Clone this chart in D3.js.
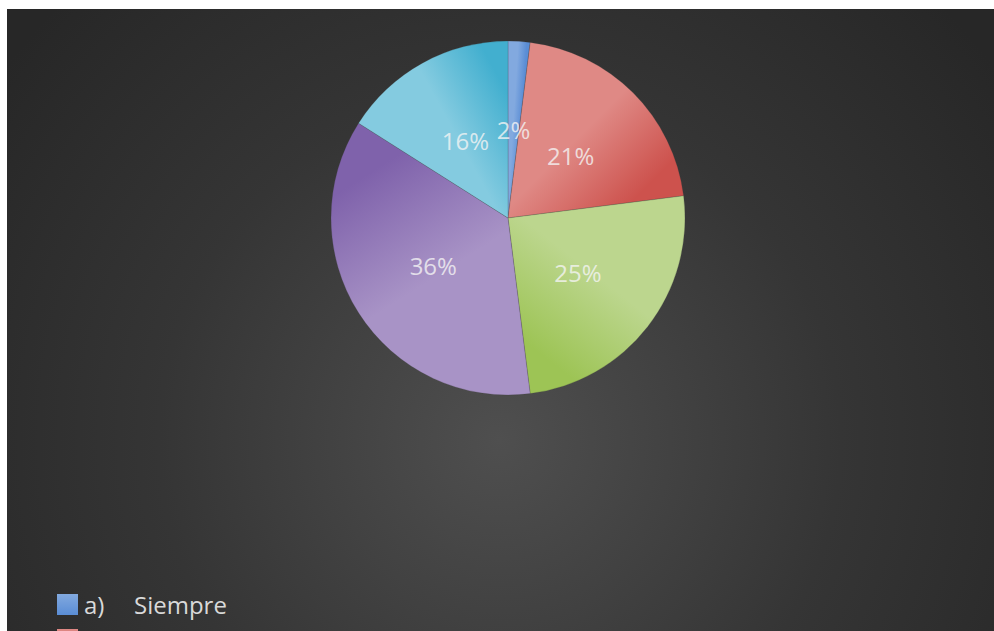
<!DOCTYPE html>
<html>
<head>
<meta charset="utf-8">
<script src="https://cdn.jsdelivr.net/npm/d3@7"></script>
<style>
  html, body { margin: 0; padding: 0; background: #ffffff; }
  svg { display: block; }
</style>
</head>
<body>
<svg id="chart" width="994" height="631"></svg>
<script>
// Survey answers and their shares (percent)
const prefixes = ["a)", "b)", "c)", "d)", "e)"];
const categories = ["Siempre", "Casi siempre", "A veces", "Casi nunca", "Nunca"];
const shares = [2, 21, 25, 36, 16];

// Slice shading: light tone at the leading edge, deeper tone at the trailing edge
const lightTones = ["#82a9df", "#df8985", "#bcd68e", "#a893c6", "#84cbe0"];
const darkTones  = ["#5a8dd5", "#cd524d", "#9dc455", "#7f62ab", "#42afcf"];

const W = 994, H = 631;
const svg = d3.select("#chart");
const defs = svg.append("defs");

// Chart area with a soft radial glow
const bg = defs.append("radialGradient")
  .attr("id", "bgGlow")
  .attr("gradientUnits", "userSpaceOnUse")
  .attr("cx", 500).attr("cy", 440).attr("r", 620);
bg.append("stop").attr("offset", 0).attr("stop-color", "#4f4f4f");
bg.append("stop").attr("offset", 0.55).attr("stop-color", "#353535");
bg.append("stop").attr("offset", 1).attr("stop-color", "#272727");

svg.append("rect")
  .attr("x", 7).attr("y", 9)
  .attr("width", W - 7).attr("height", H - 9)
  .attr("fill", "url(#bgGlow)");

const cx = 508, cy = 218, R = 177;

const pie = d3.pie().sort(null).value(d => d.value);
const arcs = pie(categories.map((c, i) => ({ name: c, value: shares[i], i })));
const arc = d3.arc().innerRadius(0).outerRadius(R);

const g = svg.append("g").attr("transform", `translate(${cx},${cy})`);

// One linear gradient per slice, running from its start edge to its end edge
arcs.forEach((a, i) => {
  const r = R * 0.7;
  const x1 = r * Math.sin(a.startAngle), y1 = -r * Math.cos(a.startAngle);
  const x2 = r * Math.sin(a.endAngle),   y2 = -r * Math.cos(a.endAngle);
  const lg = defs.append("linearGradient")
    .attr("id", "slice" + i)
    .attr("gradientUnits", "userSpaceOnUse")
    .attr("x1", x1).attr("y1", y1).attr("x2", x2).attr("y2", y2);
  lg.append("stop").attr("offset", 0).attr("stop-color", lightTones[i]);
  lg.append("stop").attr("offset", 0.45).attr("stop-color", lightTones[i]);
  lg.append("stop").attr("offset", 1).attr("stop-color", darkTones[i]);
});

g.selectAll("path.slice")
  .data(arcs)
  .join("path")
  .attr("class", "slice")
  .attr("d", arc)
  .attr("fill", (d, i) => `url(#slice${i})`)
  .attr("stroke", "rgba(60,60,60,0.3)")
  .attr("stroke-width", 0.7);

// Percentage labels
const labelArc = d3.arc().innerRadius(R * 0.5).outerRadius(R * 0.5);
const fmt = d3.format(".0%");
g.selectAll("text.pct")
  .data(arcs)
  .join("text")
  .attr("class", "pct")
  .attr("transform", d => `translate(${labelArc.centroid(d)})`)
  .attr("text-anchor", "middle")
  .attr("dy", "0.4em")
  .attr("font-family", "'Open Sans', Lato, sans-serif")
  .attr("font-size", 24)
  .attr("fill", "#f4f4f4")
  .attr("fill-opacity", 0.8)
  .text(d => fmt(d.data.value / 100));

// Legend, stacked down the lower-left corner; it runs past the bottom edge,
// so only rows whose text fits inside the chart get their caption
const legendY = d3.scaleBand()
  .domain(categories)
  .range([594, 594 + 35 * categories.length])
  .paddingInner(0);

arcs.forEach((a, i) => {
  const lg = defs.append("linearGradient")
    .attr("id", "legend" + i)
    .attr("x1", 0).attr("y1", 0).attr("x2", 0).attr("y2", 1);
  lg.append("stop").attr("offset", 0).attr("stop-color", lightTones[i]);
  lg.append("stop").attr("offset", 1).attr("stop-color", darkTones[i]);
});

const item = svg.append("g").selectAll("g.item")
  .data(arcs)
  .join("g")
  .attr("class", "item")
  .attr("transform", d => `translate(57,${legendY(d.data.name)})`);

item.append("rect")
  .attr("width", 21).attr("height", 21)
  .attr("fill", (d, i) => `url(#legend${i})`);

const captioned = item.filter(d => legendY(d.data.name) + 26 <= H);

captioned.append("text")
  .attr("x", 27).attr("y", 20)
  .attr("font-family", "'Open Sans', Lato, sans-serif")
  .attr("font-size", 24)
  .attr("fill", "#d9d9d9")
  .text(d => prefixes[d.data.i]);

captioned.append("text")
  .attr("x", 77).attr("y", 20)
  .attr("font-family", "'Open Sans', Lato, sans-serif")
  .attr("font-size", 24)
  .attr("fill", "#d9d9d9")
  .text(d => d.data.name);
</script>
</body>
</html>
